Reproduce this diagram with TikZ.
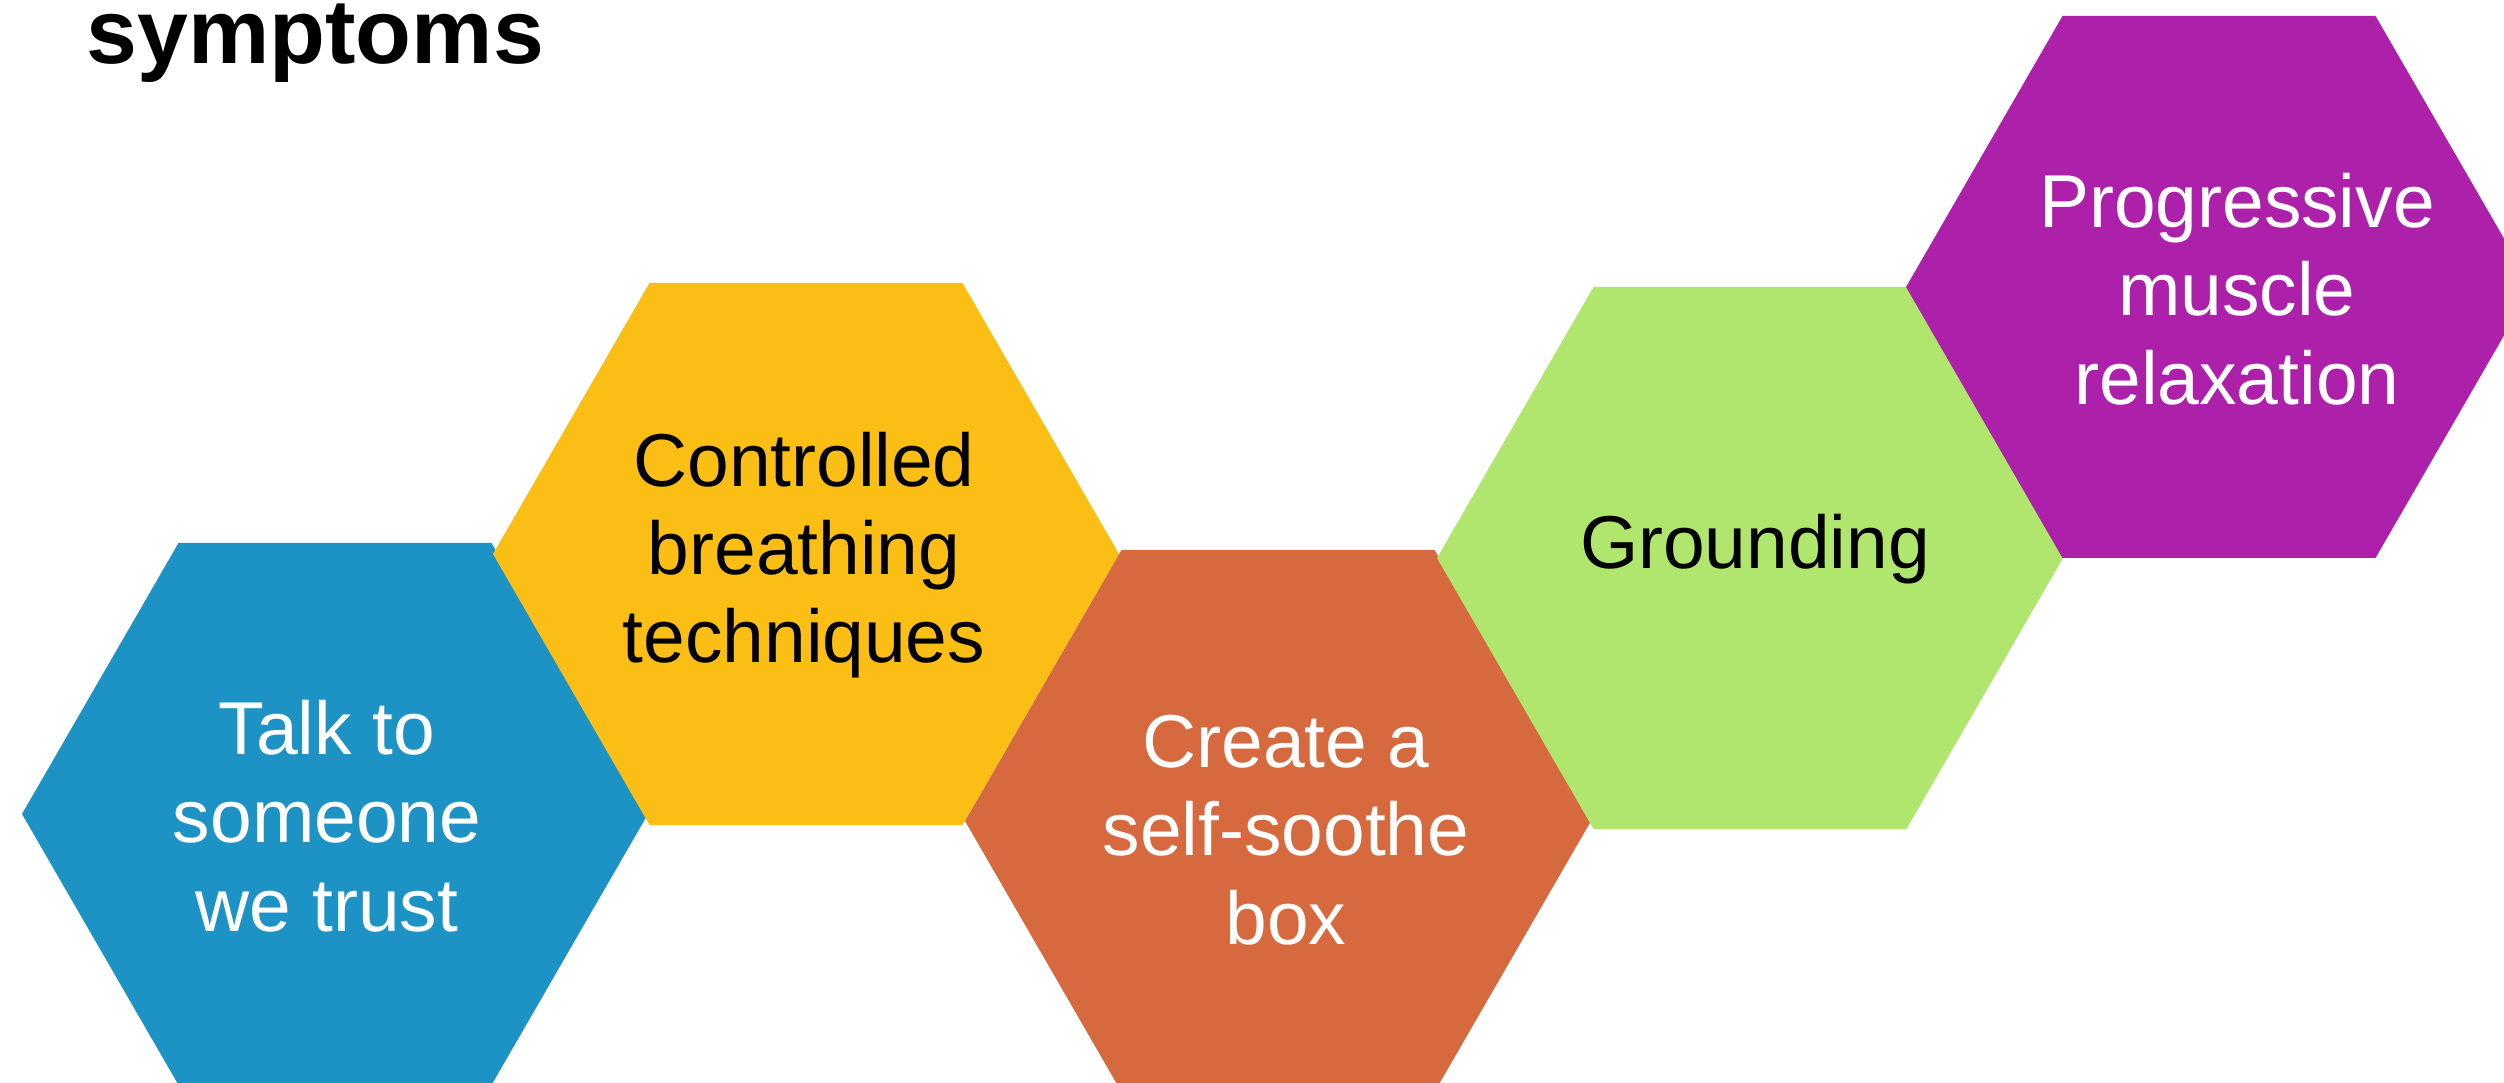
\documentclass[tikz,border=0pt]{standalone}
\usepackage{fontspec}
\setmainfont{Liberation Sans}
\definecolor{hexblue}{HTML}{1D92C4}
\definecolor{hexyellow}{HTML}{FABE15}
\definecolor{hexorange}{HTML}{D6693E}
\definecolor{hexgreen}{HTML}{B1E66E}
\definecolor{hexpurple}{HTML}{AD21AA}
% flat-topped regular hexagon: centre x, centre y, fill colour
\newcommand\hexcell[3]{%
  \fill[#3] (#1+313,#2) -- (#1+156.5,#2+271) -- (#1-156.5,#2+271)
    -- (#1-313,#2) -- (#1-156.5,#2-271) -- (#1+156.5,#2-271) -- cycle;}
\begin{document}
\begin{tikzpicture}[x=0.01cm,y=-0.01cm,
  hexlabel/.style={font=\fontsize{21.3}{25.1}\selectfont, align=center, inner sep=0pt},
  titletext/.style={font=\bfseries\fontsize{26}{30}\selectfont, inner sep=0pt, anchor=base west}]
\useasboundingbox (0,0) rectangle (2504,1083);
\clip (0,0) rectangle (2504,1083);

\node[titletext] (title) at (86,64) {symptoms};

\hexcell{335}{814}{hexblue}
\hexcell{806}{554}{hexyellow}
\hexcell{1278}{821}{hexorange}
\hexcell{1750}{558}{hexgreen}
\hexcell{2219}{287}{hexpurple}

\node[hexlabel, text=white] (talk) at (327,816) {Talk to\\someone\\we trust};
\node[hexlabel, text=black] (breathing) at (804,555) {Controlled\\breathing\\techniques};
\node[hexlabel, text=white] (soothe) at (1286,830) {Create a\\self-soothe\\box};
\node[hexlabel, text=black] (grounding) at (1755,549) {Grounding};
\node[hexlabel, text=white] (relax) at (2237,289) {Progressive\\muscle\\relaxation};
\end{tikzpicture}
\end{document}
